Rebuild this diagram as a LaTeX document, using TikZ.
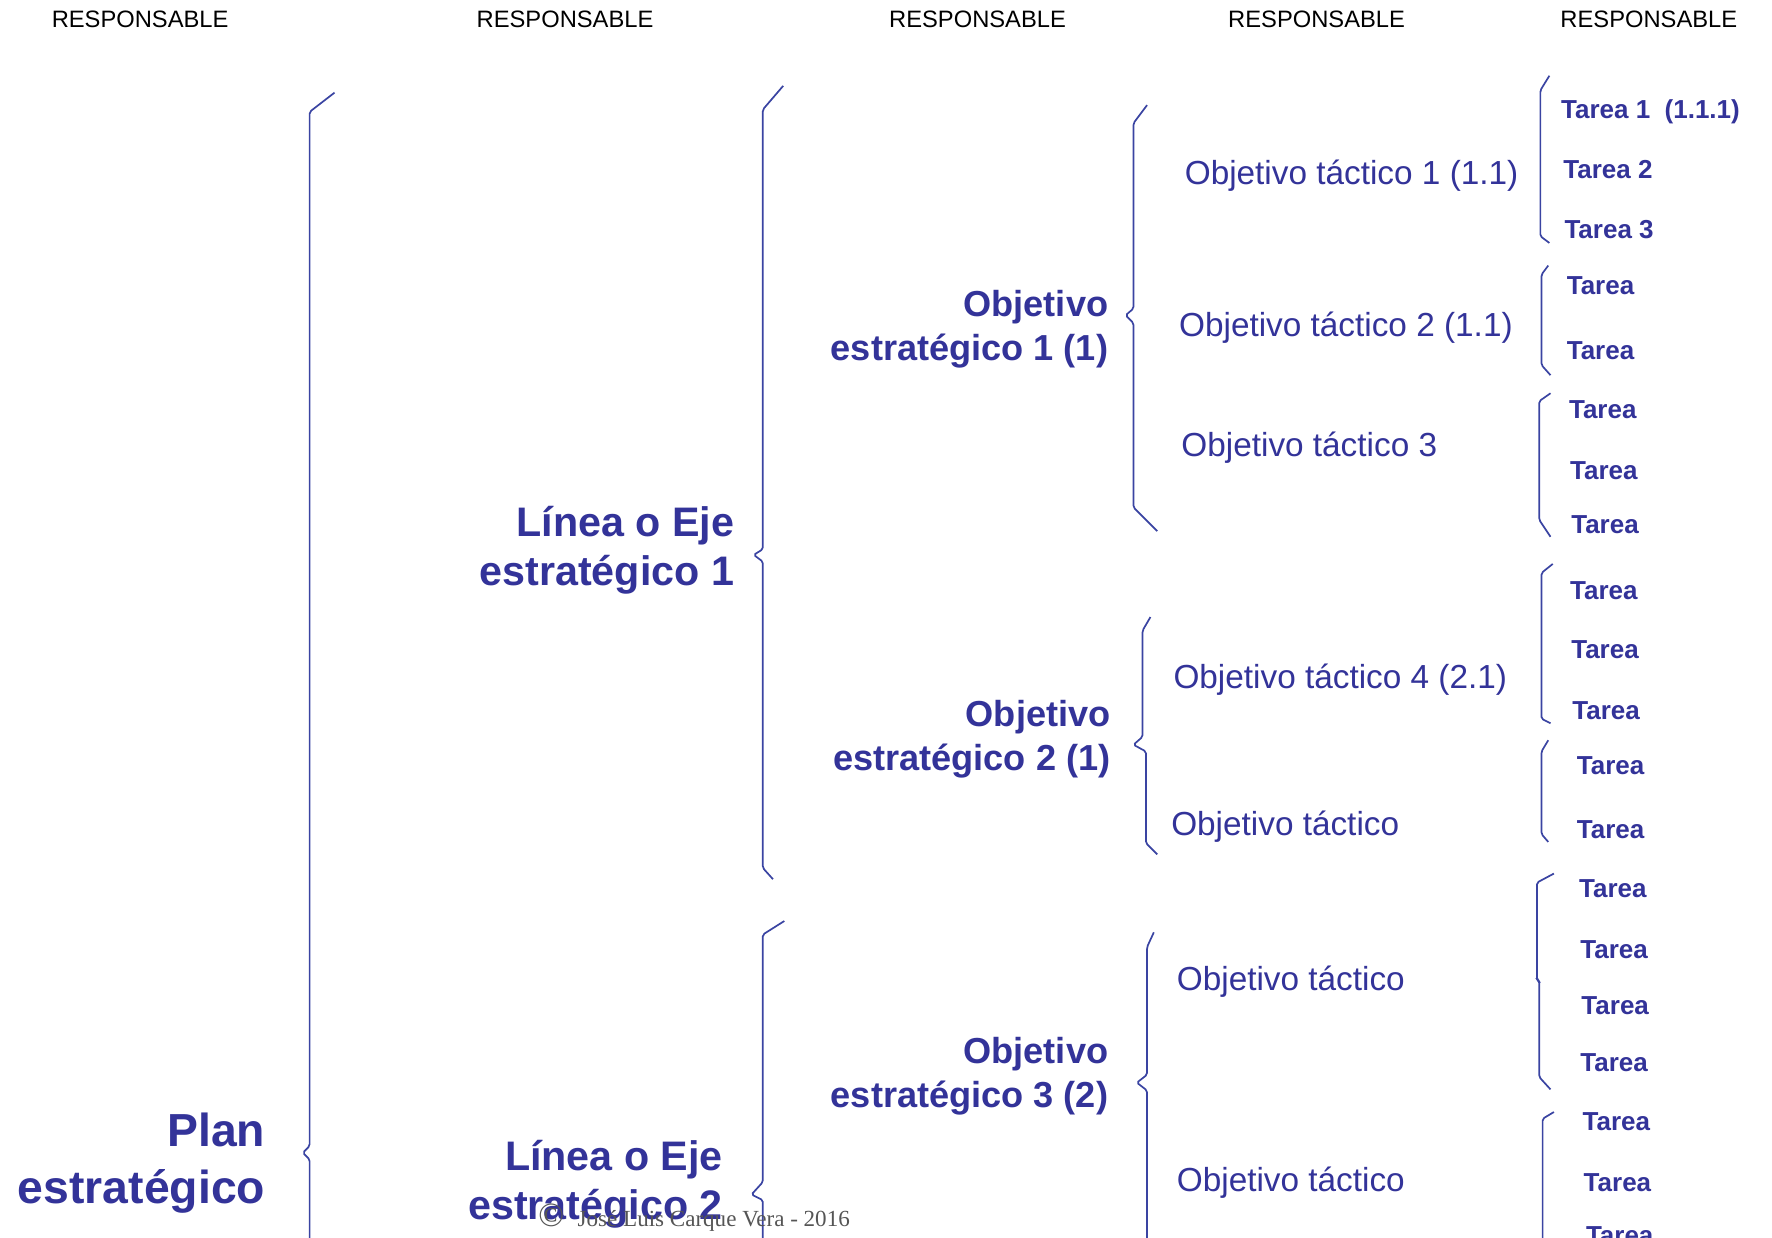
\documentclass[tikz,border=0pt]{standalone}
\usepackage{fontspec}
\setmainfont{Liberation Sans}
\newfontfamily\cpfont{Liberation Serif}
\definecolor{txtblue}{HTML}{333399}
\definecolor{lineblue}{HTML}{3A44A2}
\definecolor{cpgray}{HTML}{555555}
\begin{document}
\begin{tikzpicture}[x=0.5pt,y=-0.5pt,
  hdr/.style={font=\fontsize{10.5}{12}\selectfont, anchor=base, inner sep=0pt, text=black},
  lvlA/.style={text=txtblue, font=\bfseries\fontsize{20.5}{25}\selectfont, align=right, anchor=east, inner sep=0pt},
  lvlB/.style={text=txtblue, font=\bfseries\fontsize{18.25}{22}\selectfont, align=right, anchor=east, inner sep=0pt},
  lvlC/.style={text=txtblue, font=\bfseries\fontsize{16}{19.5}\selectfont, align=right, anchor=east, inner sep=0pt},
  tact/.style={text=txtblue, font=\fontsize{14.75}{17}\selectfont, anchor=base west, inner sep=0pt},
  task/.style={text=txtblue, font=\bfseries\fontsize{11.5}{13}\selectfont, anchor=base west, inner sep=0pt},
  brc/.style={draw=lineblue, line width=0.75pt, rounded corners=0.8pt}]
\path[use as bounding box, clip] (0,0) rectangle (1568,1095);
\fill[white] (0,0) rectangle (1568,1095);

% headers
\node[hdr] (h1) at (124,24) {RESPONSABLE};
\node[hdr] (h2) at (500,24) {RESPONSABLE};
\node[hdr] (h3) at (865,24) {RESPONSABLE};
\node[hdr] (h4) at (1165,24) {RESPONSABLE};
\node[hdr] (h5) at (1459,24) {RESPONSABLE};

% level texts
\node[lvlA] (plan) at (235,1029) {Plan\\estratégico};
\node[lvlB] (lin1) at (650,487) {Línea o Eje\\estratégico 1};
\node[lvlB] (lin2) at (640,1048) {Línea o Eje\\estratégico 2};
\node[lvlC] (oe1) at (981,291) {Objetivo\\estratégico 1 (1)};
\node[lvlC] (oe2) at (983,654) {Objetivo\\estratégico 2 (1)};
\node[lvlC] (oe3) at (981,952) {Objetivo\\estratégico 3 (2)};

% tactical objectives
\node[tact] (ot1) at (1048,163.6) {Objetivo táctico 1 (1.1)};
\node[tact] (ot2) at (1043,297.6) {Objetivo táctico 2 (1.1)};
\node[tact] (ot3) at (1045,403.6) {Objetivo táctico 3};
\node[tact] (ot4) at (1038,609.6) {Objetivo táctico 4 (2.1)};
\node[tact] (ot5) at (1036,739.6) {Objetivo táctico};
\node[tact] (ot6) at (1041,876.6) {Objetivo táctico};
\node[tact] (ot7) at (1041,1054.6) {Objetivo táctico};

% tasks
\node[task] (t1)  at (1381,105.3) {Tarea 1\ \ (1.1.1)};
\node[task] (t2)  at (1383,158.3) {Tarea 2};
\node[task] (t3)  at (1384,211.3) {Tarea 3};
\node[task] (t4)  at (1386,260.3) {Tarea};
\node[task] (t5)  at (1386,318.3) {Tarea};
\node[task] (t6)  at (1388,370.3) {Tarea};
\node[task] (t7)  at (1389,424.3) {Tarea};
\node[task] (t8)  at (1390,472.3) {Tarea};
\node[task] (t9)  at (1389,530.3) {Tarea};
\node[task] (t10) at (1390,582.3) {Tarea};
\node[task] (t11) at (1391,636.3) {Tarea};
\node[task] (t12) at (1395,685.3) {Tarea};
\node[task] (t13) at (1395,742.3) {Tarea};
\node[task] (t14) at (1397,794.3) {Tarea};
\node[task] (t15) at (1398,848.3) {Tarea};
\node[task] (t16) at (1399,897.3) {Tarea};
\node[task] (t17) at (1398,948.3) {Tarea};
\node[task] (t18) at (1400,1000.3) {Tarea};
\node[task] (t19) at (1401,1054.3) {Tarea};
\node[task] (t20) at (1403,1101.3) {Tarea};

% braces
\draw[brc] (296,82) -- (274,99) -- (274,1014) -- (268,1020) -- (274,1026) -- (274,1110);
\draw[brc] (693,76) -- (675,97) -- (675,486) -- (667,491) -- (675,497) -- (675,768) -- (684,778);
\draw[brc] (694,815) -- (675,827) -- (675,1046) -- (665,1057) -- (675,1062) -- (675,1110);
\draw[brc] (1015,93) -- (1003,109) -- (1003,273) -- (996,279) -- (1003,286) -- (1003,449) -- (1024,470);
\draw[brc] (1018,546) -- (1011,558) -- (1011,652) -- (1003,659) -- (1014,665) -- (1014,746) -- (1024,756);
\draw[brc] (1021,825) -- (1015,838) -- (1015,951) -- (1006,958) -- (1015,965) -- (1015,1110);
\draw[brc] (1371,67) -- (1363,80) -- (1363,209) -- (1371,215);
\draw[brc] (1370,235) -- (1364,243) -- (1364,323) -- (1372,332);
\draw[brc] (1372,348) -- (1362,355) -- (1362,460) -- (1372,475);
\draw[brc] (1374,499) -- (1364,507) -- (1364,636) -- (1372,640);
\draw[brc] (1370,655) -- (1364,665) -- (1364,738) -- (1370,745);
\draw[brc] (1375,773) -- (1360,781) -- (1360,867) -- (1362,868) -- (1362,953) -- (1372,964);
\draw[brc] (1375,984) -- (1365,990) -- (1365,1110);

% copyright
\node[anchor=base west, inner sep=0pt, text=cpgray] (cp) at (476,1085)
  {{\cpfont\fontsize{15}{15}\selectfont ©}\hspace{6pt}{\cpfont\fontsize{10.2}{12}\selectfont José Luis Carque Vera - 2016}};
\end{tikzpicture}
\end{document}
